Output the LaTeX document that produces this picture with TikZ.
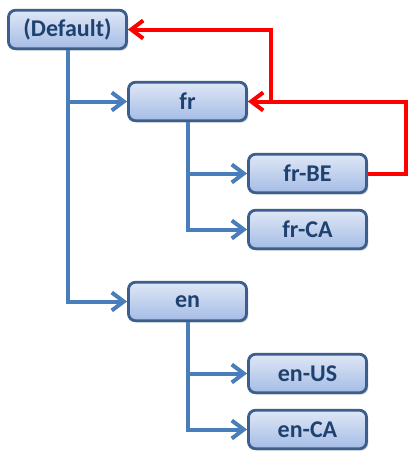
\documentclass[tikz,border=0pt]{standalone}
\usepackage{fontspec}
\setmainfont{Carlito}
\usetikzlibrary{arrows.meta,shadows}
\definecolor{boxtop}{HTML}{DEE7F6}
\definecolor{boxbot}{HTML}{A5BCE5}
\definecolor{boxedge}{HTML}{3B5E8D}
\definecolor{txtblue}{HTML}{1F416F}
\definecolor{linkblue}{HTML}{4A7EBB}
\definecolor{backred}{HTML}{FF0000}
\tikzset{
  langbox/.style={draw=boxedge, line width=2.8pt, rounded corners=7pt,
    top color=boxtop, bottom color=boxbot,
    minimum width=118pt, minimum height=38.5pt, inner sep=0pt,
    text=txtblue, font=\fontsize{24}{28}\selectfont\bfseries,
    drop shadow={shadow xshift=1.8pt, shadow yshift=-1.8pt, opacity=0.3, fill=black!60}},
  conn/.style={draw=linkblue, line width=4pt,
    -{Straight Barb[length=12pt,width=18pt,line width=4pt]}},
  fallback/.style={draw=backred, line width=4pt,
    -{Straight Barb[length=12pt,width=18pt,line width=4pt]}}
}
\begin{document}
\begin{tikzpicture}[x=1pt,y=-1pt]
\useasboundingbox (0,0) rectangle (410,463);
\node[langbox] (D) at (67.5,29.5) {(Default)};
\node[langbox] (fr) at (187.5,101.5) {fr};
\node[langbox] (frBE) at (307.5,173.5) {fr-BE};
\node[langbox] (frCA) at (307.5,229.5) {fr-CA};
\node[langbox] (en) at (187.5,301.5) {en};
\node[langbox] (enUS) at (307.5,373.5) {en-US};
\node[langbox] (enCA) at (307.5,429.5) {en-CA};
\coordinate (rc) at (405.5,0);
\coordinate (jc) at (270.5,0);
% blue tree
\draw[conn] (D.south) |- (en.west);
\draw[conn] (D.south |- fr.west) -- (fr.west);
\draw[conn] (fr.south) |- (frCA.west);
\draw[conn] (fr.south |- frBE.west) -- (frBE.west);
\draw[conn] (en.south) |- (enCA.west);
\draw[conn] (en.south |- enUS.west) -- (enUS.west);
% red fallback
\draw[fallback] (frBE.east) -- (frBE.east -| rc) |- (fr.east);
\draw[fallback] (fr.east -| jc) |- (D.east);
\end{tikzpicture}
\end{document}
